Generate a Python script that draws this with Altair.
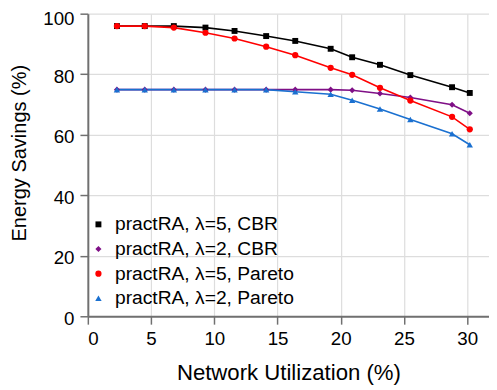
import altair as alt
import pandas as pd

util = [2.3, 4.5, 6.8, 9.3, 11.6, 14.1, 16.4, 19.2, 20.9, 23.1, 25.5, 28.8, 30.2]

s_l5_cbr = [95.9, 95.9, 95.9, 95.4, 94.3, 92.6, 91.0, 88.4, 85.6, 83.1, 79.7, 75.7, 73.8]
s_l2_cbr = [74.9, 74.9, 74.9, 74.9, 74.9, 74.9, 74.9, 74.9, 74.7, 73.6, 72.3, 69.9, 67.1]
s_l5_par = [95.9, 95.9, 95.4, 93.7, 91.8, 89.1, 86.3, 82.1, 79.8, 75.5, 71.3, 65.9, 61.8]
s_l2_par = [74.9, 74.9, 74.9, 74.9, 74.9, 74.9, 74.2, 73.4, 71.4, 68.5, 65.0, 60.3, 56.7]

names = ["practRA, λ=5, CBR", "practRA, λ=2, CBR", "practRA, λ=5, Pareto", "practRA, λ=2, Pareto"]
colors = ["#000000", "#7f0f86", "#ff0000", "#1a70d0"]
shapes = ["square", "diamond", "circle", "triangle-up"]
sizes = [36, 42, 56, 38]

rows = []
for name, vals in zip(names, [s_l5_cbr, s_l2_cbr, s_l5_par, s_l2_par]):
    for x, y in zip(util, vals):
        rows.append({"util": x, "saving": y, "series": name})
df = pd.DataFrame(rows)

FONT = "Liberation Sans"

x = alt.X("util:Q", scale=alt.Scale(domain=[0, 31.72], nice=False),
          axis=alt.Axis(values=[0, 5, 10, 15, 20, 25, 30], title="Network Utilization (%)"))
y = alt.Y("saving:Q", scale=alt.Scale(domain=[0, 100], nice=False),
          axis=alt.Axis(values=[0, 20, 40, 60, 80, 100], title="Energy Savings (%)",
                        labelOffset={"condition": {"test": "datum.value == 100", "value": 5}, "value": 2}))

leg = alt.Legend(title=None, orient="none", legendX=1, legendY=204, padding=0,
                 labelFontSize=19.5, labelFont=FONT, rowPadding=4, labelOffset=7,
                 labelLimit=0, symbolStrokeWidth=0, labelColor="black", symbolOpacity=1)

lines = alt.Chart(df).mark_line(strokeWidth=1.6).encode(
    x=x, y=y,
    color=alt.Color("series:N", scale=alt.Scale(domain=names, range=colors), legend=None),
    detail="series:N",
)

points = alt.Chart(df).mark_point(filled=True, opacity=1).encode(
    x=x, y=y,
    color=alt.Color("series:N", scale=alt.Scale(domain=names, range=colors), legend=leg),
    shape=alt.Shape("series:N", scale=alt.Scale(domain=names, range=shapes), legend=leg),
    size=alt.Size("series:N", scale=alt.Scale(domain=names, range=sizes), legend=leg),
)

chart = alt.layer(lines, points).resolve_legend(
    color="independent", shape="independent", size="independent"
).properties(
    width=407, height=307,
    autosize=alt.AutoSizeParams(type="none"),
    padding={"left": 81, "top": 3, "right": 0, "bottom": 70},
).configure_view(stroke=None).configure_axis(
    labelFont=FONT, titleFont=FONT, labelFontSize=19,
    labelColor="black", titleColor="black", titleFontWeight="normal",
    gridColor="#dddddd", gridWidth=1.2, domainColor="#707070", domainWidth=2,
    tickColor="#707070", tickWidth=1.5, tickSize=8,
).configure_axisX(
    labelPadding=6, titleFontSize=22.5, titleBaseline="alphabetic", titleY=64,
).configure_axisY(
    labelPadding=6, titleFontSize=20.3, titleX=-59, titleY=141,
)

chart.save("out.html", embed_options={"renderer": "svg", "actions": False})
